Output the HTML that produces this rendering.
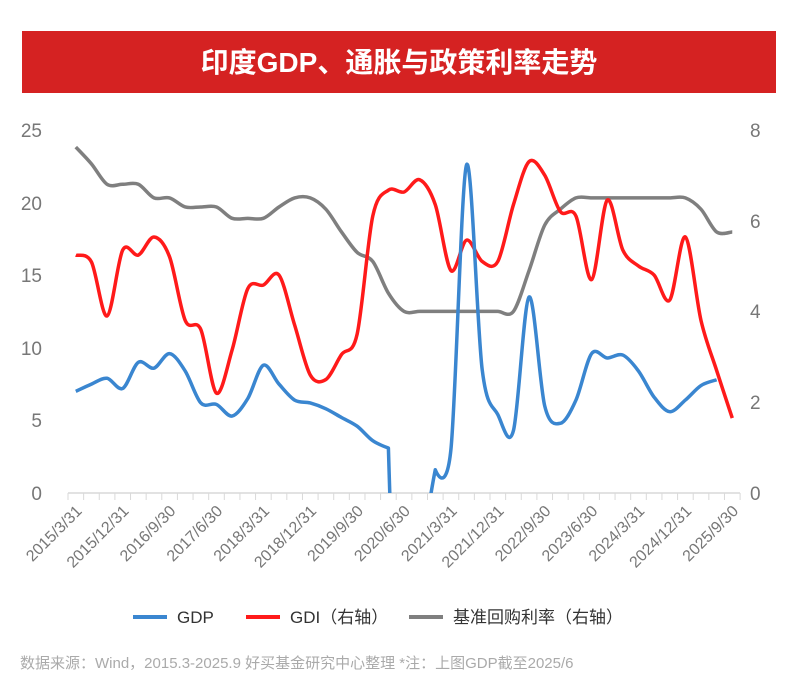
<!DOCTYPE html><html><head><meta charset="utf-8"><style>
html,body{margin:0;padding:0;background:#fff;width:798px;height:694px;overflow:hidden;font-family:"Liberation Sans","Noto Sans CJK SC",sans-serif}
svg{display:block}
</style></head><body>
<svg id="s" width="798" height="694" xmlns="http://www.w3.org/2000/svg" style="font-family:'Liberation Sans','Noto Sans CJK SC',sans-serif">
<rect x="22" y="31" width="754" height="62" fill="#d52222"/>
<text x="399" y="72" text-anchor="middle" fill="#fff" font-size="28" font-weight="bold">印度GDP、通胀与政策利率走势</text>
<defs><clipPath id="c"><rect x="60" y="100" width="690" height="393"/></clipPath></defs>
<g fill="#777" font-size="19">
<text x="42" y="137" text-anchor="end">25</text><text x="42" y="210" text-anchor="end">20</text><text x="42" y="282" text-anchor="end">15</text><text x="42" y="355" text-anchor="end">10</text><text x="42" y="427" text-anchor="end">5</text><text x="42" y="500" text-anchor="end">0</text>
<text x="750" y="137">8</text><text x="750" y="228">6</text><text x="750" y="318">4</text><text x="750" y="409">2</text><text x="750" y="500">0</text>
</g>
<line x1="68" y1="493" x2="740" y2="493" stroke="#d9d9d9" stroke-width="1.5"/>
<g id="ticks" stroke="#d9d9d9"></g>
<g id="xl" fill="#777" font-size="16"></g>
<g clip-path="url(#c)" fill="none" stroke-width="3.5" stroke-linejoin="round">
<path id="rp" stroke="#7f7f7f"/><path id="gd" stroke="#ff1a1a"/><path id="gp" stroke="#3a86d0"/>
</g>
<g font-size="17" fill="#333">
<line x1="133" y1="617" x2="167" y2="617" stroke="#3a86d0" stroke-width="4"/><text x="177" y="623">GDP</text>
<line x1="246" y1="617" x2="280" y2="617" stroke="#ff1a1a" stroke-width="4"/><text x="290" y="623">GDI（右轴）</text>
<line x1="409" y1="617" x2="443" y2="617" stroke="#7f7f7f" stroke-width="4"/><text x="453" y="623">基准回购利率（右轴）</text>
</g>
<text x="20" y="668" fill="#aaa" font-size="15">数据来源：Wind，2015.3-2025.9 好买基金研究中心整理 *注：上图GDP截至2025/6</text>
</svg>
<script>
var X=i=>75.8+15.63*i;
var gdp=[7.0,7.5,7.9,7.2,9.0,8.6,9.6,8.4,6.2,6.1,5.3,6.5,8.8,7.5,6.4,6.2,5.8,5.2,4.6,3.6,3.1,-23,-6,1.6,3.0,22.6,8.5,5.4,4.3,13.5,6.0,4.8,6.4,9.6,9.3,9.5,8.4,6.6,5.6,6.4,7.4,7.8];
var gdi=[5.24,5.09,3.9,5.35,5.24,5.64,5.2,3.8,3.6,2.2,3.15,4.5,4.58,4.8,3.7,2.6,2.5,3.05,3.5,6.1,6.67,6.63,6.9,6.35,4.9,5.57,5.1,5.1,6.35,7.3,7.0,6.2,6.1,4.7,6.45,5.35,5.0,4.8,4.25,5.64,3.8,2.7,1.65];
var rp=[7.62,7.25,6.8,6.8,6.8,6.5,6.5,6.3,6.3,6.3,6.05,6.05,6.05,6.3,6.5,6.5,6.25,5.75,5.3,5.1,4.4,4.0,4.0,4.0,4.0,4.0,4.0,4.0,4.0,4.9,5.9,6.25,6.5,6.5,6.5,6.5,6.5,6.5,6.5,6.5,6.25,5.75,5.75];
function path(v,f,sharp){var p=v.map((y,i)=>[X(i),f(y)]);var d="M"+p[0];for(var i=0;i<p.length-1;i++){var a=p[i-1]||p[i],b=p[i],c=p[i+1],e=p[i+2]||c,t1=(sharp&&sharp.indexOf(i)>=0)?0:0.32,t2=(sharp&&sharp.indexOf(i+1)>=0)?0:0.32;
d+="C"+[b[0]+(c[0]-a[0])*t1/2,b[1]+(c[1]-a[1])*t1/2]+" "+[c[0]-(e[0]-b[0])*t2/2,c[1]-(e[1]-b[1])*t2/2]+" "+c;}return d}
var L=y=>493-14.52*y,R=y=>493-45.4*y;
document.getElementById('gp').setAttribute('d',path(gdp,L,[20,23]));
document.getElementById('gd').setAttribute('d',path(gdi,R));
document.getElementById('rp').setAttribute('d',path(rp,R));
var tk="",xl="";for(var i=0;i<=43;i++){var x=68+15.63*i;tk+='<line x1="'+x+'" y1="493" x2="'+x+'" y2="500"/>';}
document.getElementById('ticks').innerHTML=tk;
var labs=["2015/3/31","2015/12/31","2016/9/30","2017/6/30","2018/3/31","2018/12/31","2019/9/30","2020/6/30","2021/3/31","2021/12/31","2022/9/30","2023/6/30","2024/3/31","2024/12/31","2025/9/30"];
labs.forEach((s,k)=>{var x=X(k*3)+7;xl+='<text x="'+x+'" y="512" text-anchor="end" transform="rotate(-45 '+x+' 512)">'+s+'</text>';});
document.getElementById('xl').innerHTML=xl;
</script>
</body></html>
